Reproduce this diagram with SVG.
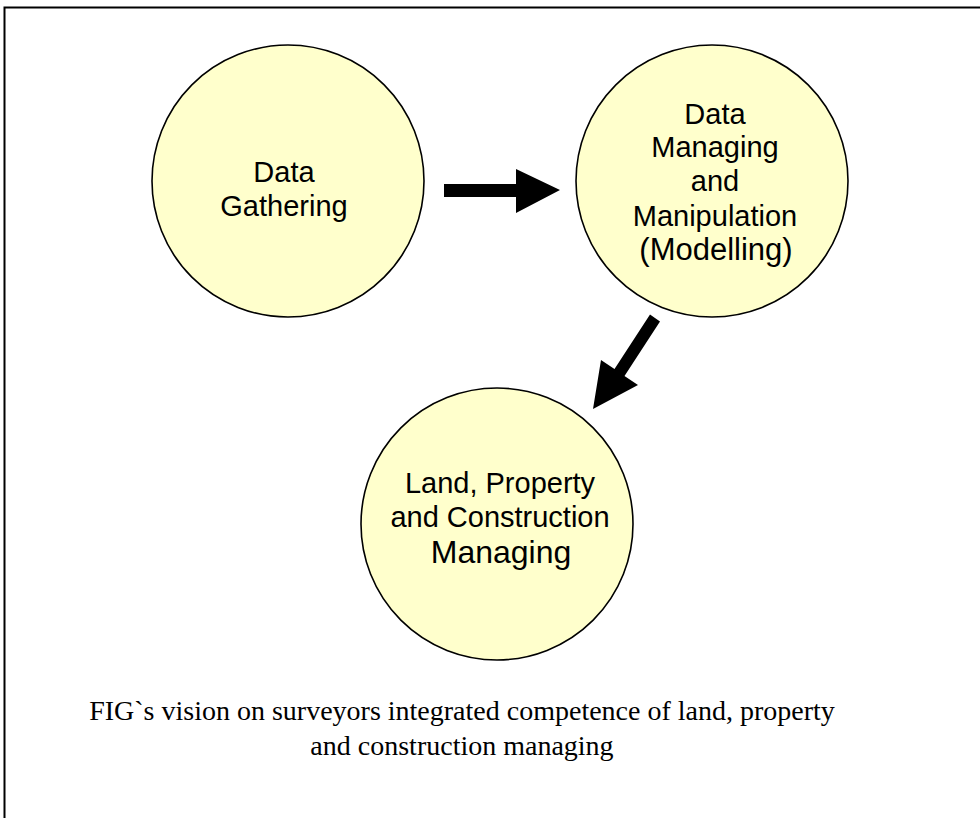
<svg xmlns="http://www.w3.org/2000/svg" width="980" height="818" viewBox="0 0 980 818">
<style>
.node{fill:#FFFFCC;stroke:#000;stroke-width:1.6}
.lbl{font-family:"Liberation Sans",Arial,sans-serif;font-size:29px;fill:#000;text-anchor:middle}
.cap{font-family:"Liberation Serif","Times New Roman",serif;font-size:28px;fill:#000;text-anchor:middle}
.arrow{fill:#000;stroke:none}
</style>
<rect width="980" height="818" fill="#fff"/>
<path d="M4.5,818 V7.5 H980" fill="none" stroke="#000" stroke-width="2"/>
<g id="n1">
<circle class="node" cx="288" cy="181" r="136"/>
<text class="lbl" x="284" y="182">Data</text>
<text class="lbl" x="284" y="216">Gathering</text>
</g>
<g id="n2">
<circle class="node" cx="712" cy="181" r="136"/>
<text class="lbl" x="715" y="124">Data</text>
<text class="lbl" x="715" y="157">Managing</text>
<text class="lbl" x="715" y="191">and</text>
<text class="lbl" x="715" y="226">Manipulation</text>
<text class="lbl" x="716" y="260" style="font-size:31px">(Modelling)</text>
</g>
<g id="n3">
<circle class="node" cx="497" cy="524" r="136"/>
<text class="lbl" x="500" y="493">Land, Property</text>
<text class="lbl" x="500" y="527">and Construction</text>
<text class="lbl" x="501" y="563" style="font-size:32px">Managing</text>
</g>
<g id="connectors">
<polygon class="arrow" points="444,184 516,184 516,169 560,190 516,213 516,197 444,197"/>
<polygon class="arrow" points="650,314.6 660,321.4 624.5,375.9 638,385 593,409 601,360 614.5,369.1"/>
</g>
<g id="caption">
<text class="cap" x="462" y="720">FIG`s vision on surveyors integrated competence of land, property</text>
<text class="cap" x="462" y="755">and construction managing</text>
</g>
</svg>
